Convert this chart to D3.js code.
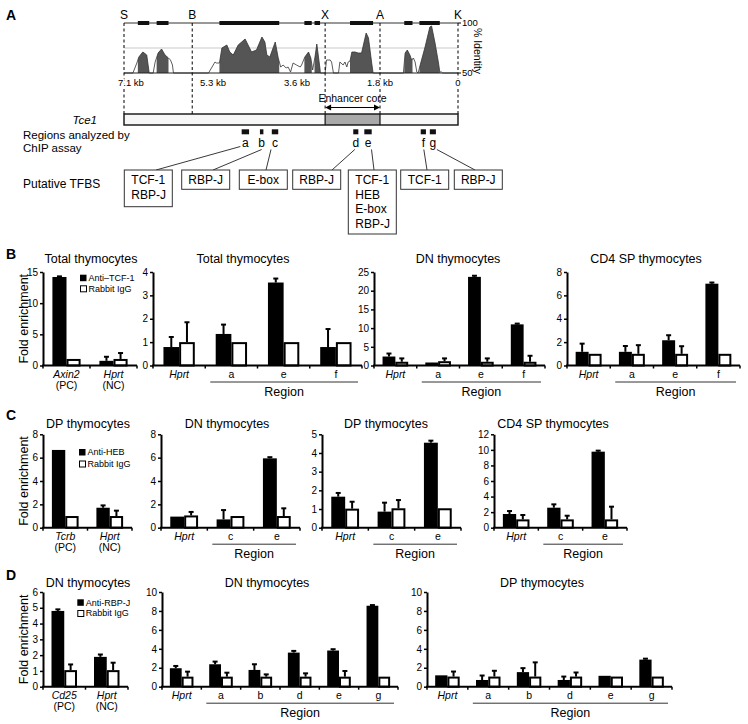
<!DOCTYPE html>
<html><head><meta charset="utf-8">
<script src="https://cdn.jsdelivr.net/npm/d3@7/dist/d3.min.js"></script>
<style>
body{margin:0;background:#fff}
svg{display:block}
text{font-family:"Liberation Sans",Arial,Helvetica,sans-serif;fill:#000}
</style>
</head><body>
<svg id="c" width="748" height="724"></svg>
<script>
// ================= DATA =================
// ---- Panel A: VISTA conservation plot of the Tce1 region ----
const siteNames = ["S","B","X","A","K"];
const siteKb = [7.1, 5.72, 2.99, 1.8, 0];
const kbTicks = [7.1, 5.3, 3.6, 1.8, 0];
const kbTickLabels = ["7.1 kb","5.3 kb","3.6 kb","1.8 kb","0"];
const identityTicks = [100, 50];
const identityGrid = [75];
const profileKb = [7.1,6.92,6.84,6.80,6.72,6.69,6.64,6.59,
  6.51,6.47,6.41,6.34,6.27,6.20,6.16,6.12,6.10,
  5.39,5.26,5.23,5.17,5.12,5.02,4.96,4.89,4.79,4.65,4.57,4.52,4.42,4.31,4.25,4.21,4.15,4.04,3.98,
  3.93,3.88,3.82,3.78,3.73,3.68,3.61,3.53,3.50,3.43,3.35,3.30,3.26,3.21,3.17,3.12,3.09,
  2.99,2.96,2.88,2.85,2.81,2.70,2.67,2.60,2.56,2.52,2.49,2.45,2.41,2.34,2.27,2.20,2.10,2.05,1.98,1.95,
  1.26,1.22,1.17,1.11,1.07,1.03,0.99,0.95,0.92,0.86,0.76,0.65,0.61,0.53,0.45,0.42,0.38,0.35,0];
const profileIdentity = [50,50,60,66,71,70,68,50,
  50,61,70,74,68,65,63,58,50,
  50,61,60,60,75,78,71,68,78,84,76,71,73,86,81,68,66,81,65,
  56,58,55,56,51,60,58,56,58,66,71,65,53,66,79,61,50,
  50,63,63,61,50,50,61,58,61,56,61,62,71,71,70,70,90,85,60,50,
  50,70,73,68,63,65,61,51,50,60,76,96,97,80,60,51,51,50,50];
const conservedStart = [6.82, 6.44, 5.17, 3.44, 3.22, 2.45, 1.24, 0.89];
const conservedEnd   = [6.59, 6.20, 3.96, 3.28, 3.10, 1.95, 1.05, 0.42];
const enhancerCore = [2.99, 1.8];
const regionNames = ["a","b","c","d","e","f","g"];
const regionStart = [4.72, 4.35, 4.11, 2.38, 2.14, 0.86, 0.65];
const regionEnd   = [4.57, 4.28, 3.98, 2.27, 1.98, 0.74, 0.51];
const tfbsLabels = [["TCF-1","RBP-J"],["RBP-J"],["E-box"],["RBP-J"],["TCF-1","HEB","E-box","RBP-J"],["TCF-1"],["RBP-J"]];

// ---- Panel B: anti-TCF-1 ChIP ----
const b1Cats = ["Axin2","Hprt"], b1Sub = ["(PC)","(NC)"];
const b1Ab = [14.2, 0.75], b1AbErr = [0.1, 0.65];
const b1IgG = [1.05, 1.05], b1IgGErr = [0, 0.95];
const b2Cats = ["Hprt","a","e","f"];
const b2Ab = [0.79, 1.35, 3.55, 0.79], b2AbErr = [0.43, 0.4, 0.17, 0.77];
const b2IgG = [1, 1, 1, 1], b2IgGErr = [0.85, 0, 0, 0];
const b3Cats = ["Hprt","a","e","f"];
const b3Ab = [2.4, 0.8, 23.7, 11.0], b3AbErr = [0.8, 0, 0.3, 0.2];
const b3IgG = [1.0, 1.15, 1.0, 1.0], b3IgGErr = [0.9, 0.75, 0.9, 1.6];
const b4Cats = ["Hprt","a","e","f"];
const b4Ab = [1.17, 1.17, 2.16, 7.0], b4AbErr = [0.7, 0.5, 0.43, 0.1];
const b4IgG = [1, 1, 1, 1], b4IgGErr = [0, 0.74, 0.65, 0];

// ---- Panel C: anti-HEB ChIP ----
const c1Cats = ["Tcrb","Hprt"], c1Sub = ["(PC)","(NC)"];
const c1Ab = [6.66, 1.71], c1AbErr = [0, 0.2];
const c1IgG = [1, 1], c1IgGErr = [0, 0.46];
const c2Cats = ["Hprt","c","e"];
const c2Ab = [0.95, 0.71, 5.94], c2AbErr = [0, 0.8, 0.1];
const c2IgG = [1.05, 1.0, 1.0], c2IgGErr = [0.3, 0, 0.66];
const c3Cats = ["Hprt","c","e"];
const c3Ab = [1.66, 0.86, 4.55], c3AbErr = [0.2, 0.48, 0.11];
const c3IgG = [1.02, 1.04, 1.04], c3IgGErr = [0.37, 0.44, 0];
const c4Cats = ["Hprt","c","e"];
const c4Ab = [1.76, 2.57, 9.77], c4AbErr = [0.38, 0.43, 0.13];
const c4IgG = [1.07, 1.07, 1.07], c4IgGErr = [0.56, 0.47, 1.63];

// ---- Panel D: anti-RBP-J ChIP ----
const d1Cats = ["Cd25","Hprt"], d1Sub = ["(PC)","(NC)"];
const d1Ab = [4.8, 1.89], d1AbErr = [0.1, 0.15];
const d1IgG = [1.05, 1.05], d1IgGErr = [0.36, 0.47];
const d2Cats = ["Hprt","a","b","d","e","g"];
const d2Ab = [1.95, 2.37, 1.77, 3.6, 3.82, 8.55], d2AbErr = [0.24, 0.28, 0.6, 0.18, 0.14, 0.07];
const d2IgG = [1.06, 1.06, 1.06, 1.06, 1.06, 1.06], d2IgGErr = [0.53, 0.42, 0.24, 0.35, 0.6, 0];
const d3Cats = ["Hprt","a","b","d","e","g"];
const d3Ab = [1.2, 0.71, 1.54, 0.71, 1.15, 2.86], d3AbErr = [0, 0.47, 0.42, 0.36, 0, 0.1];
const d3IgG = [1.07, 1.07, 1.07, 1.07, 1.07, 1.07], d3IgGErr = [0.53, 0.61, 1.5, 0.43, 0, 0];

const legendB = ["Anti\u2013TCF-1","Rabbit IgG"];
const legendC = ["Anti-HEB","Rabbit IgG"];
const legendD = ["Anti-RBP-J","Rabbit IgG"];

// ================= DRAWING =================
const svg = d3.select("#c");

// panel letters
[["A",20],["B",259],["C",420],["D",580]].forEach(([t,yy])=>{
  svg.append("text").attr("x",6).attr("y",yy).attr("font-size",14).attr("font-weight","bold").text(t);
});

// ---------- Panel A ----------
const gA = svg.append("g");
const xA = d3.scaleLinear().domain(kbTicks).range([124,213,297,380,458]);
const yA = d3.scaleLinear().domain([50,100]).range([73,23]);
const xL = xA(7.1), xR = xA(0);

identityGrid.forEach(v=>gA.append("line").attr("x1",xL).attr("x2",xR).attr("y1",yA(v)).attr("y2",yA(v)).attr("stroke","#bbb").attr("stroke-width",0.8));

const defs = svg.append("defs");
const clip = defs.append("clipPath").attr("id","consClip");
conservedStart.forEach((s,i)=>{
  clip.append("rect").attr("x",xA(s)).attr("width",xA(conservedEnd[i])-xA(s)).attr("y",yA(100)).attr("height",yA(50)-yA(100));
});
const profile = profileKb.map((k,i)=>[k,profileIdentity[i]]);
gA.append("path").datum(profile)
  .attr("d",d3.area().x(d=>xA(d[0])).y0(yA(50)).y1(d=>yA(d[1])))
  .attr("fill","#555").attr("clip-path","url(#consClip)");
gA.append("path").datum(profile)
  .attr("d",d3.line().x(d=>xA(d[0])).y(d=>yA(d[1])))
  .attr("fill","none").attr("stroke","#333").attr("stroke-width",0.8);
gA.append("line").attr("x1",xL).attr("x2",xR).attr("y1",yA(50)).attr("y2",yA(50)).attr("stroke","#222").attr("stroke-width",1);
gA.append("line").attr("x1",xL).attr("x2",xR).attr("y1",yA(100)).attr("y2",yA(100)).attr("stroke","#333").attr("stroke-width",1);
conservedStart.forEach((s,i)=>{
  gA.append("rect").attr("x",xA(s)).attr("width",xA(conservedEnd[i])-xA(s)).attr("y",yA(100)-2).attr("height",4).attr("fill","#111");
});
identityTicks.forEach(v=>{
  gA.append("line").attr("x1",xR).attr("x2",xR+3).attr("y1",yA(v)).attr("y2",yA(v)).attr("stroke","#000").attr("stroke-width",1);
  gA.append("text").attr("x",xR+4).attr("y",yA(v)).attr("dy","0.35em").attr("font-size",9.5).text(v);
});
gA.append("text").attr("transform",`translate(474,${yA(72)}) rotate(90)`).attr("text-anchor","middle").attr("font-size",10.5).text("% Identity");

const boxTop = 114, boxBot = 125;
siteKb.forEach((k,i)=>{
  gA.append("line").attr("x1",xA(k)).attr("x2",xA(k)).attr("y1",yA(100)).attr("y2",boxTop)
    .attr("stroke","#000").attr("stroke-width",1).attr("stroke-dasharray","3,2.5");
  gA.append("text").attr("x",xA(k)).attr("y",18.5).attr("text-anchor","middle").attr("font-size",12).text(siteNames[i]);
});
kbTicks.forEach((k,i)=>{
  gA.append("text").attr("x", i===0 ? xA(k)-6 : xA(k)).attr("y",86)
    .attr("text-anchor", i===0 ? "start":"middle").attr("font-size",9.5)
    .attr("stroke","#fff").attr("stroke-width",3).attr("paint-order","stroke")
    .text(kbTickLabels[i]);
});
const ec0 = xA(enhancerCore[0]), ec1 = xA(enhancerCore[1]);
gA.append("text").attr("x",(ec0+ec1)/2).attr("y",101.5).attr("text-anchor","middle").attr("font-size",10.5).text("Enhancer core");
gA.append("line").attr("x1",ec0+4).attr("x2",ec1-4).attr("y1",107.5).attr("y2",107.5).attr("stroke","#000").attr("stroke-width",1);
gA.append("path").attr("d",`M${ec0},107.5 l6,-3 l0,6 Z`).attr("fill","#000");
gA.append("path").attr("d",`M${ec1},107.5 l-6,-3 l0,6 Z`).attr("fill","#000");
gA.append("rect").attr("x",xL).attr("y",boxTop).attr("width",xR-xL).attr("height",boxBot-boxTop).attr("fill","#f6f6f6").attr("stroke","none");
gA.append("rect").attr("x",ec0).attr("y",boxTop).attr("width",ec1-ec0).attr("height",boxBot-boxTop).attr("fill","#a9a9a9");
gA.append("rect").attr("x",xL).attr("y",boxTop).attr("width",xR-xL).attr("height",boxBot-boxTop).attr("fill","none").attr("stroke","#111").attr("stroke-width",1.4);
gA.append("line").attr("x1",ec0).attr("x2",ec0).attr("y1",boxTop).attr("y2",boxBot).attr("stroke","#111").attr("stroke-width",1.2);
gA.append("line").attr("x1",ec1).attr("x2",ec1).attr("y1",boxTop).attr("y2",boxBot).attr("stroke","#111").attr("stroke-width",1.2);
gA.append("text").attr("x",97).attr("y",123.5).attr("text-anchor","end").attr("font-size",11.5).attr("font-style","italic").text("Tce1");
gA.append("text").attr("x",23).attr("y",139).attr("font-size",11.5).text("Regions analyzed by");
gA.append("text").attr("x",23).attr("y",151.5).attr("font-size",11.5).text("ChIP assay");
gA.append("text").attr("x",23).attr("y",187.5).attr("font-size",12).text("Putative TFBS");

const tfbsBoxLeft = [124.3,181.7,239.3,292.7,348.3,400.7,454.3];
const tfbsBoxW = 48;
const connStartDx = [-5,0,-4,-1,3.5,0.5,4];
const connEndX = [156,213,266,332,374,427,475];
const tfbsTop = 170, lineH = 14.5;
regionNames.forEach((r,i)=>{
  const a = xA(regionStart[i]), b = xA(regionEnd[i]), cx = (a+b)/2;
  gA.append("rect").attr("x",a).attr("width",b-a).attr("y",129.3).attr("height",5).attr("fill","#111");
  gA.append("text").attr("x",cx).attr("y",146.5).attr("text-anchor","middle").attr("font-size",12).text(r);
  gA.append("line").attr("x1",cx+connStartDx[i]).attr("y1",i===0?146.5:149.5).attr("x2",connEndX[i]).attr("y2",tfbsTop)
    .attr("stroke","#222").attr("stroke-width",0.9);
  const labs = tfbsLabels[i];
  const h = labs.length===1 ? 19.3 : (labs.length===2 ? 36.7 : 64);
  gA.append("rect").attr("x",tfbsBoxLeft[i]).attr("y",tfbsTop).attr("width",tfbsBoxW).attr("height",h)
    .attr("fill","#fff").attr("stroke","#333").attr("stroke-width",1);
  labs.forEach((t,j)=>{
    gA.append("text").attr("x", labs.length===1 ? tfbsBoxLeft[i]+tfbsBoxW/2 : tfbsBoxLeft[i]+7)
      .attr("text-anchor", labs.length===1 ? "middle":"start")
      .attr("y",tfbsTop+14+j*lineH).attr("font-size",12).text(t);
  });
});

// ---------- Bar charts ----------
function barChart(cfg){
  const g = svg.append("g");
  const x = d3.scaleBand().domain(cfg.cats).range([cfg.x0,cfg.x1]);
  const y = d3.scaleLinear().domain([0,cfg.yMax]).range([cfg.bottom,cfg.top]);
  const bw = x.bandwidth()*0.3;
  g.append("text").attr("x",cfg.titleX).attr("y",cfg.titleY).attr("text-anchor","middle").attr("font-size",12.5).text(cfg.title);
  cfg.cats.forEach((c,i)=>{
    const cx = x(c)+x.bandwidth()/2;
    g.append("rect").attr("x",cx-bw).attr("y",y(cfg.ab[i])).attr("width",bw).attr("height",y(0)-y(cfg.ab[i])).attr("fill","#000");
    g.append("rect").attr("x",cx+1).attr("y",y(cfg.igg[i])+1).attr("width",bw-2).attr("height",Math.max(0,y(0)-y(cfg.igg[i])-1))
      .attr("fill","#fff").attr("stroke","#000").attr("stroke-width",2);
    [[cx-bw/2,cfg.ab[i],cfg.abErr[i]],[cx+bw/2,cfg.igg[i],cfg.iggErr[i]]].forEach(([ex,m,e])=>{
      if(!e) return;
      g.append("line").attr("x1",ex).attr("x2",ex).attr("y1",y(m)).attr("y2",y(m+e)).attr("stroke","#000").attr("stroke-width",2);
      g.append("line").attr("x1",ex-2.5).attr("x2",ex+2.5).attr("y1",y(m+e)).attr("y2",y(m+e)).attr("stroke","#000").attr("stroke-width",2);
    });
  });
  const ticks = d3.range(0, cfg.yMax+cfg.yStep/2, cfg.yStep);
  const ax = g.append("g").attr("transform",`translate(${cfg.x0},0)`)
    .call(d3.axisLeft(y).tickValues(ticks).tickSize(3).tickSizeOuter(0).tickPadding(2).tickFormat(d3.format("d")));
  ax.select(".domain").attr("stroke-width",2).attr("stroke","#000");
  ax.selectAll(".tick line").attr("stroke-width",1.5).attr("stroke","#000");
  ax.selectAll(".tick text").attr("font-size",10).attr("font-family",'"Liberation Sans",Arial,sans-serif').attr("fill","#000");
  g.append("line").attr("x1",cfg.x0-1).attr("x2",cfg.x1).attr("y1",y(0)).attr("y2",y(0)).attr("stroke","#000").attr("stroke-width",2);
  const bounds = cfg.cats.map(c=>x(c)).concat([cfg.x1]);
  bounds.forEach(bx=>g.append("line").attr("x1",bx).attr("x2",bx).attr("y1",y(0)).attr("y2",y(0)+3).attr("stroke","#000").attr("stroke-width",1.5));
  cfg.cats.forEach((c,i)=>{
    const cx = x(c)+x.bandwidth()/2;
    g.append("text").attr("x",cx).attr("y",y(0)+12.5).attr("text-anchor","middle").attr("font-size",10.5)
      .attr("font-style", c.length>1 ? "italic":"normal").text(c);
    if(cfg.sub) g.append("text").attr("x",cx).attr("y",y(0)+23).attr("text-anchor","middle").attr("font-size",10.5).text(cfg.sub[i]);
  });
  if(cfg.region){
    const rx0 = x(cfg.cats[1])+5, rx1 = cfg.x1-4;
    g.append("line").attr("x1",rx0).attr("x2",rx1).attr("y1",y(0)+16.5).attr("y2",y(0)+16.5).attr("stroke","#333").attr("stroke-width",1);
    g.append("text").attr("x",(rx0+rx1)/2).attr("y",y(0)+30.5).attr("text-anchor","middle").attr("font-size",12.5).text("Region");
  }
  if(cfg.ylabel){
    g.append("text").attr("transform",`translate(28,${(cfg.top+cfg.bottom)/2}) rotate(-90)`).attr("text-anchor","middle").attr("font-size",12.5).text("Fold enrichment");
  }
  if(cfg.legend){
    const [lx,ly,gap] = cfg.legendPos;
    g.append("rect").attr("x",lx).attr("y",ly).attr("width",6.5).attr("height",6.5).attr("fill","#000");
    g.append("rect").attr("x",lx+0.5).attr("y",ly+gap+0.5).attr("width",6).attr("height",6).attr("fill","#fff").attr("stroke","#000").attr("stroke-width",1);
    g.append("text").attr("x",lx+8.5).attr("y",ly+3.3).attr("dy","0.35em").attr("font-size",9).text(cfg.legend[0]);
    g.append("text").attr("x",lx+8.5).attr("y",ly+gap+3.3).attr("dy","0.35em").attr("font-size",9).text(cfg.legend[1]);
  }
}

const rowB = {top:272, bottom:365.5, titleY:263};
const rowC = {top:434.3, bottom:527.7, titleY:427.5};
const rowD = {top:592, bottom:686.7, titleY:587};

barChart({...rowB, x0:43, x1:137, yMax:15, yStep:5, titleX:91, title:"Total thymocytes",
  cats:b1Cats, sub:b1Sub, ab:b1Ab, abErr:b1AbErr, igg:b1IgG, iggErr:b1IgGErr, ylabel:true, legend:legendB, legendPos:[80,274.7,10.6]});
barChart({...rowB, x0:153, x1:362, yMax:4, yStep:1, titleX:243, title:"Total thymocytes",
  cats:b2Cats, ab:b2Ab, abErr:b2AbErr, igg:b2IgG, iggErr:b2IgGErr, region:true});
barChart({...rowB, x0:374, x1:545, yMax:25, yStep:5, titleX:458, title:"DN thymocytes",
  cats:b3Cats, ab:b3Ab, abErr:b3AbErr, igg:b3IgG, iggErr:b3IgGErr, region:true});
barChart({...rowB, x0:567, x1:740, yMax:8, yStep:2, titleX:646, title:"CD4 SP thymocytes",
  cats:b4Cats, ab:b4Ab, abErr:b4AbErr, igg:b4IgG, iggErr:b4IgGErr, region:true});

barChart({...rowC, x0:43, x1:132, yMax:8, yStep:2, titleX:88, title:"DP thymocytes",
  cats:c1Cats, sub:c1Sub, ab:c1Ab, abErr:c1AbErr, igg:c1IgG, iggErr:c1IgGErr, ylabel:true, legend:legendC, legendPos:[79,449,11.5]});
barChart({...rowC, x0:161, x1:300, yMax:8, yStep:2, titleX:227, title:"DN thymocytes",
  cats:c2Cats, ab:c2Ab, abErr:c2AbErr, igg:c2IgG, iggErr:c2IgGErr, region:true});
barChart({...rowC, x0:322, x1:461, yMax:5, yStep:1, titleX:386, title:"DP thymocytes",
  cats:c3Cats, ab:c3Ab, abErr:c3AbErr, igg:c3IgG, iggErr:c3IgGErr, region:true});
barChart({...rowC, x0:494, x1:627, yMax:12, yStep:2, titleX:553, title:"CD4 SP thymocytes",
  cats:c4Cats, ab:c4Ab, abErr:c4AbErr, igg:c4IgG, iggErr:c4IgGErr, region:true});

barChart({...rowD, x0:43, x1:128, yMax:6, yStep:1, titleX:88, title:"DN thymocytes",
  cats:d1Cats, sub:d1Sub, ab:d1Ab, abErr:d1AbErr, igg:d1IgG, iggErr:d1IgGErr, ylabel:true, legend:legendD, legendPos:[77.3,599.3,10.7]});
barChart({...rowD, x0:162, x1:398, yMax:10, yStep:2, titleX:267, title:"DN thymocytes",
  cats:d2Cats, ab:d2Ab, abErr:d2AbErr, igg:d2IgG, iggErr:d2IgGErr, region:true});
barChart({...rowD, x0:427, x1:672, yMax:10, yStep:2, titleX:542, title:"DP thymocytes",
  cats:d3Cats, ab:d3Ab, abErr:d3AbErr, igg:d3IgG, iggErr:d3IgGErr, region:true});
</script>
</body></html>
